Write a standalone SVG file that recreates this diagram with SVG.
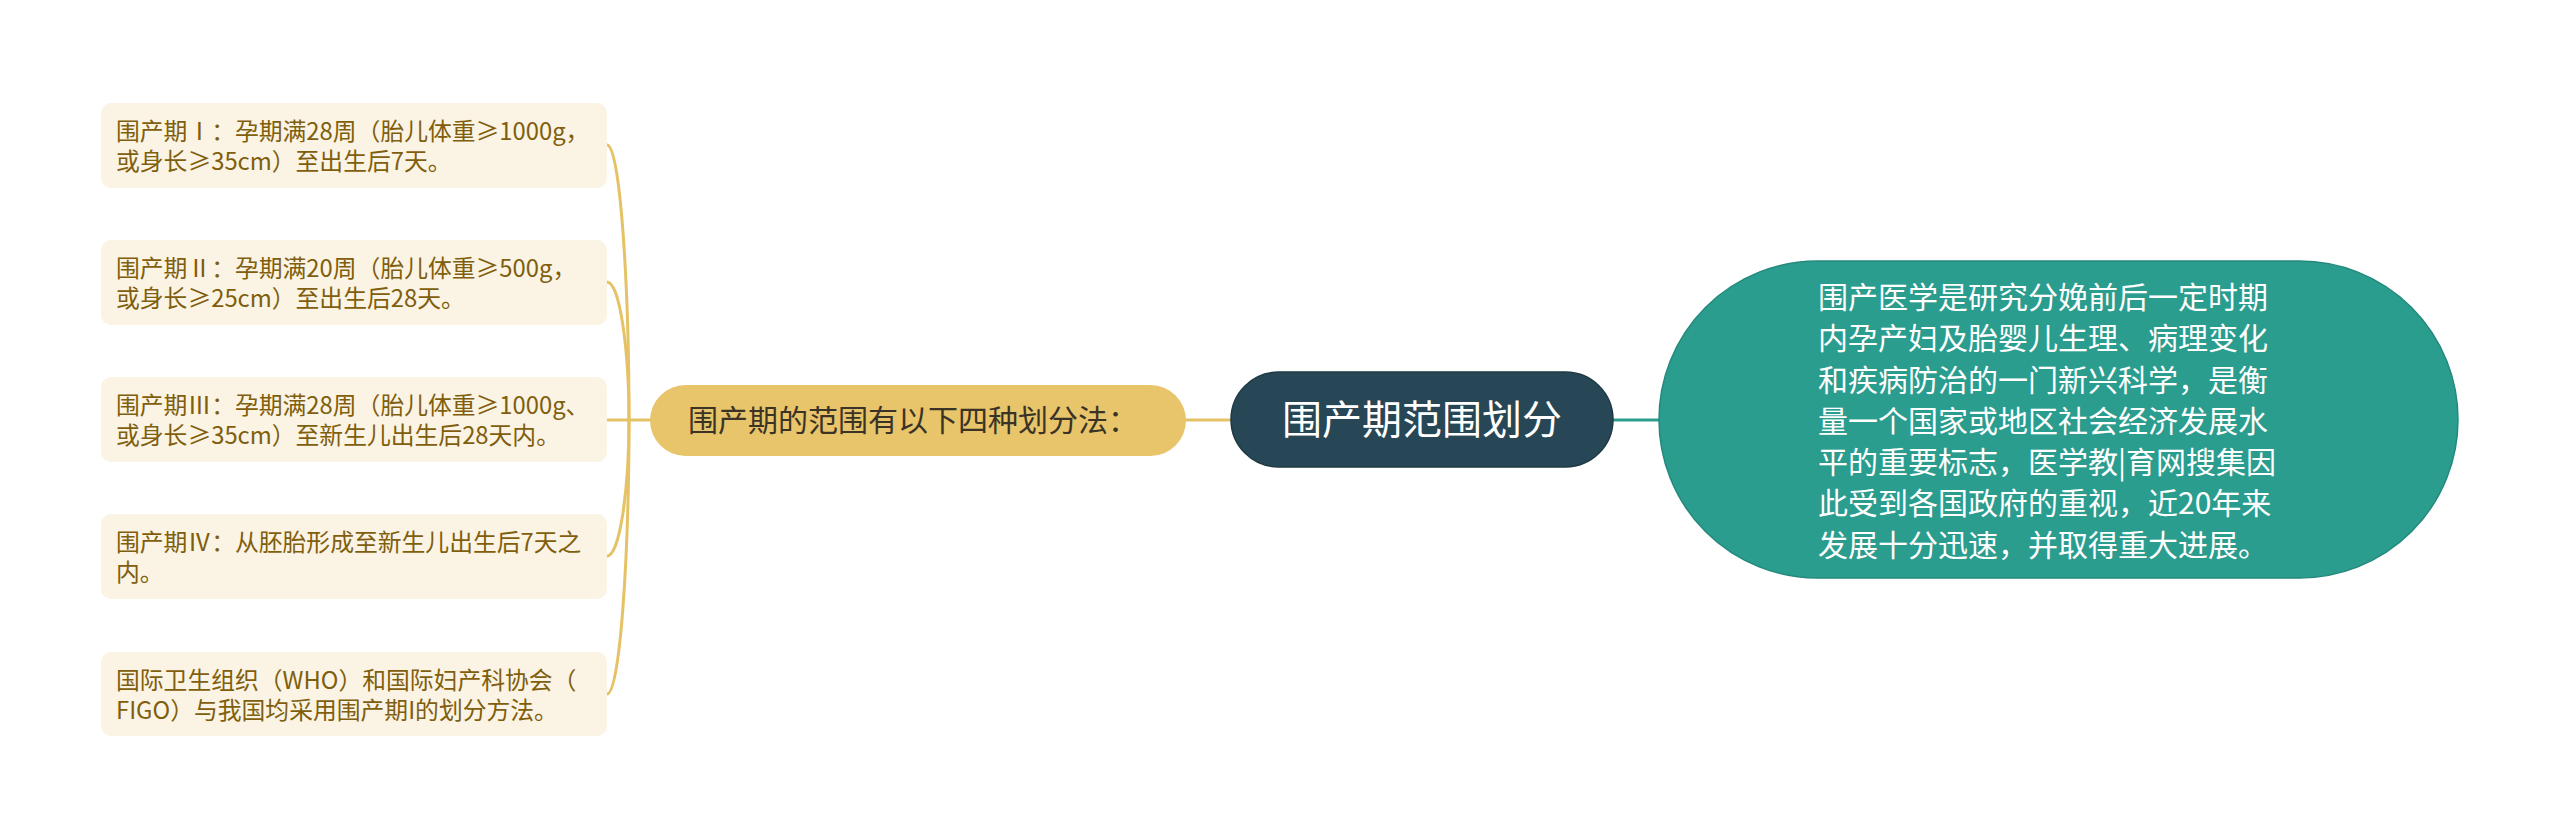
<svg xmlns="http://www.w3.org/2000/svg" width="2560" height="839" viewBox="0 0 2560 839">
<style>
  .leaf rect { fill: #fbf3e3; }
  .leaf text { font-family: "Noto Sans CJK SC", "Liberation Sans", sans-serif; font-size: 23.8px; fill: #7f5e0d; }
  .gold { fill: none; stroke: #e6c266; stroke-width: 3; }
  .teal { fill: none; stroke: #2a9d8f; stroke-width: 3; }
  .t { font-family: "Noto Sans CJK SC", "Liberation Sans", sans-serif; }
</style>
<rect width="2560" height="839" fill="#ffffff"/>
<g id="connectors">
  <path class="gold" d="M 607 145 C 620 145, 629 282, 629 420"/>
  <path class="gold" d="M 607 282 C 620 282, 629 351, 629 420"/>
  <path class="gold" d="M 607 420 L 652 420"/>
  <path class="gold" d="M 607 556 C 620 556, 629 488, 629 420"/>
  <path class="gold" d="M 607 694 C 620 694, 629 557, 629 420"/>
  <path class="gold" d="M 1184 420 L 1233 420"/>
  <path class="teal" d="M 1612 420 L 1661 420"/>
</g>
<g id="leaf1" class="leaf">
  <rect x="101" y="103" width="506" height="85" rx="10"/>
  <text x="116" y="140">围产期Ⅰ：孕期满28周（胎儿体重≥1000g，</text>
  <text x="116" y="170">或身长≥35cm）至出生后7天。</text>
</g>
<g id="leaf2" class="leaf">
  <rect x="101" y="240" width="506" height="85" rx="10"/>
  <text x="116" y="277">围产期Ⅱ：孕期满20周（胎儿体重≥500g，</text>
  <text x="116" y="307">或身长≥25cm）至出生后28天。</text>
</g>
<g id="leaf3" class="leaf">
  <rect x="101" y="377" width="506" height="85" rx="10"/>
  <text x="116" y="414">围产期Ⅲ：孕期满28周（胎儿体重≥1000g、</text>
  <text x="116" y="444">或身长≥35cm）至新生儿出生后28天内。</text>
</g>
<g id="leaf4" class="leaf">
  <rect x="101" y="514" width="506" height="85" rx="10"/>
  <text x="116" y="551">围产期Ⅳ：从胚胎形成至新生儿出生后7天之</text>
  <text x="116" y="581">内。</text>
</g>
<g id="leaf5" class="leaf">
  <rect x="101" y="652" width="506" height="84" rx="10"/>
  <text x="116" y="689">国际卫生组织（WHO）和国际妇产科协会（</text>
  <text x="116" y="719">FIGO）与我国均采用围产期I的划分方法。</text>
</g>
<g id="branch">
  <rect x="650" y="385" width="536" height="71" rx="35.5" fill="#e8c46a"/>
  <text class="t" x="688" y="431" font-size="30" fill="#3a3326">围产期的范围有以下四种划分法：</text>
</g>
<g id="root">
  <rect x="1231" y="372" width="382" height="95" rx="47.5" fill="#274756" stroke="#1f3a46" stroke-width="1.5"/>
  <text class="t" x="1422" y="434" font-size="40" fill="#ffffff" text-anchor="middle">围产期范围划分</text>
</g>
<g id="summary">
  <rect x="1659" y="261" width="799" height="317" rx="158.5" fill="#2a9d8f" stroke="#24897d" stroke-width="1.5"/>
  <g class="t" font-size="30" fill="#ffffff">
    <text x="1818" y="308">围产医学是研究分娩前后一定时期</text>
    <text x="1818" y="349">内孕产妇及胎婴儿生理、病理变化</text>
    <text x="1818" y="391">和疾病防治的一门新兴科学，是衡</text>
    <text x="1818" y="432">量一个国家或地区社会经济发展水</text>
    <text x="1818" y="473">平的重要标志，医学教|育网搜集因</text>
    <text x="1818" y="514">此受到各国政府的重视，近20年来</text>
    <text x="1818" y="556">发展十分迅速，并取得重大进展。</text>
  </g>
</g>
</svg>
